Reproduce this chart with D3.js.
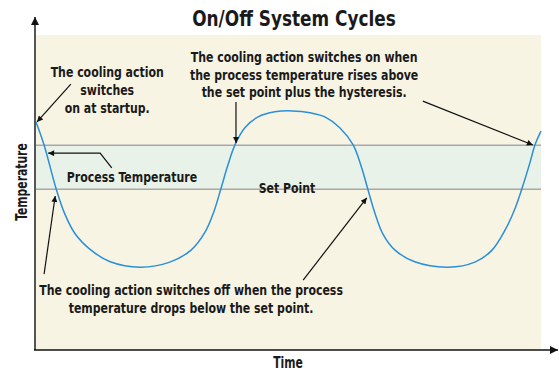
<!DOCTYPE html>
<html>
<head>
<meta charset="utf-8">
<script src="https://cdn.jsdelivr.net/npm/d3@7"></script>
<style>
  body { margin: 0; background: #fff; }
  text { font-family: "Liberation Sans Narrow", "DejaVu Sans Condensed", "Arial Narrow", sans-serif; font-weight: bold; fill: #1a1a1a; }
</style>
</head>
<body>
<div id="chart"></div>
<script>
// time (0-100) and temperature (0-100)
const time = [0, 1.6, 4.0, 5.7, 7.7, 10.9, 14.7, 20.6, 26.5, 30.7, 33.5, 35.2, 36.6, 38.0, 39.4,
  41.4, 44.0, 47.3, 50.7, 54.3, 57.2, 60.2, 62.8, 64.5, 65.7, 67.1, 68.7, 71.1, 75.0, 81.6,
  86.9, 90.3, 92.9, 94.9, 96.2, 97.8, 98.8, 100];
const temperature = [72.4, 65.1, 51.1, 43.2, 37.0, 31.7, 28.0, 26.3, 27.9, 31.7, 37.5, 43.8, 51.1, 58.7, 65.1,
  70.6, 74.0, 75.6, 75.9, 75.3, 74.0, 70.5, 65.1, 57.8, 51.1, 43.5, 36.8, 31.7, 28.0, 26.3,
  27.9, 31.7, 38.1, 45.1, 51.1, 59.4, 65.1, 69.5];
const setPoint = 51;
const hysteresis = 14;

const title = "On/Off System Cycles";
const xLabel = "Time";
const yLabel = "Temperature";

const width = 559;
const height = 370;
const margin = { top: 35, right: 18, bottom: 20, left: 36 };
const plotRight = 541;

const svg = d3.select("#chart")
  .append("svg")
  .attr("width", width)
  .attr("height", height);

const x = d3.scaleLinear().domain([0, 100]).range([margin.left, plotRight]);
const y = d3.scaleLinear().domain([0, 100]).range([height - margin.bottom, margin.top]);

const defs = svg.append("defs");
defs.append("marker")
  .attr("id", "arrow")
  .attr("viewBox", "0 0 10 10")
  .attr("refX", 10)
  .attr("refY", 5)
  .attr("markerWidth", 8)
  .attr("markerHeight", 6)
  .attr("markerUnits", "userSpaceOnUse")
  .attr("orient", "auto")
  .append("path")
  .attr("d", "M0,0 L10,5 L0,10 Z")
  .attr("fill", "#111");

defs.append("marker")
  .attr("id", "axisArrow")
  .attr("viewBox", "0 0 10 10")
  .attr("refX", 10)
  .attr("refY", 5)
  .attr("markerWidth", 10)
  .attr("markerHeight", 8)
  .attr("markerUnits", "userSpaceOnUse")
  .attr("orient", "auto")
  .append("path")
  .attr("d", "M0,0 L10,5 L0,10 Z")
  .attr("fill", "#111");

// background
svg.append("rect")
  .attr("x", x(0))
  .attr("y", y(100))
  .attr("width", x(100) - x(0))
  .attr("height", y(0) - y(100))
  .attr("fill", "#f8f4e4");

// hysteresis band
svg.append("rect")
  .attr("x", x(0))
  .attr("y", y(setPoint + hysteresis))
  .attr("width", x(100) - x(0))
  .attr("height", y(setPoint) - y(setPoint + hysteresis))
  .attr("fill", "#e8f2e8");

svg.selectAll("line.band")
  .data([setPoint, setPoint + hysteresis])
  .join("line")
  .attr("class", "band")
  .attr("x1", x(0))
  .attr("x2", x(100))
  .attr("y1", d => y(d))
  .attr("y2", d => y(d))
  .attr("stroke", "#a8a8a8")
  .attr("stroke-width", 1.5);

// curve
const pts = time.map((t, i) => [t, temperature[i]]);
svg.append("path")
  .datum(pts)
  .attr("fill", "none")
  .attr("stroke", "#2a8fd8")
  .attr("stroke-width", 1.5)
  .attr("d", d3.line()
    .x(d => x(d[0]))
    .y(d => y(d[1]))
    .curve(d3.curveCatmullRom.alpha(0.5)));

// axes
svg.append("line")
  .attr("x1", x(0) - 1).attr("x2", x(0) - 1)
  .attr("y1", y(0)).attr("y2", 17)
  .attr("stroke", "#555")
  .attr("stroke-width", 2)
  .attr("marker-end", "url(#axisArrow)");

svg.append("line")
  .attr("x1", x(0) - 2).attr("x2", 558)
  .attr("y1", y(0)).attr("y2", y(0))
  .attr("stroke", "#111")
  .attr("stroke-width", 1.5)
  .attr("marker-end", "url(#axisArrow)");

// condensed text: the fallback font is wider than the original, squeeze it
function label(cx, cy, lines, size, lh, sx, rot) {
  const t = svg.append("text")
    .attr("transform", `translate(${cx},${cy}) rotate(${rot || 0}) scale(${sx},1)`)
    .attr("text-anchor", "middle")
    .style("font-size", size + "px");
  lines.forEach((l, i) => {
    t.append("tspan").attr("x", 0).attr("y", i * lh).text(l);
  });
}

label(294, 26, [title], 22, 0, 0.855);
label(288, 368, [xLabel], 15, 0, 0.8);
label(27, 182, [yLabel], 15, 0, 0.8, -90);

// annotations
const notes = [
  { t: 14.1, v: 86.7, lines: ["The cooling action", "switches", "on at startup."], lh: 18.3 },
  { t: 53.1, v: 91.4, lines: ["The cooling action switches on when", "the process temperature rises above", "the set point plus the hysteresis."], lh: 17.6 },
  { t: 19.0, v: 53.3, lines: ["Process Temperature"], lh: 0 },
  { t: 49.7, v: 49.8, lines: ["Set Point"], lh: 0 },
  { t: 30.7, v: 17.5, lines: ["The cooling action switches off when the process", "temperature drops below the set point."], lh: 18 }
];

notes.forEach(n => label(x(n.t), y(n.v), n.lines, 14, n.lh, 0.87));

const arrows = [
  [[6.9, 84.4], [0.2, 72.4]],
  [[39.6, 78.7], [39.6, 65.7]],
  [[76.6, 79.0], [98.4, 65.1]],
  [[15.0, 57.8], [12.7, 62.5], [2.4, 62.5]],
  [[1.6, 24.1], [3.8, 48.9]],
  [[52.9, 22.2], [65.5, 48.3]]
];

svg.selectAll("path.arrow")
  .data(arrows)
  .join("path")
  .attr("class", "arrow")
  .attr("fill", "none")
  .attr("stroke", "#111")
  .attr("stroke-width", 1.2)
  .attr("marker-end", "url(#arrow)")
  .attr("d", d3.line().x(d => x(d[0])).y(d => y(d[1])));
</script>
</body>
</html>
